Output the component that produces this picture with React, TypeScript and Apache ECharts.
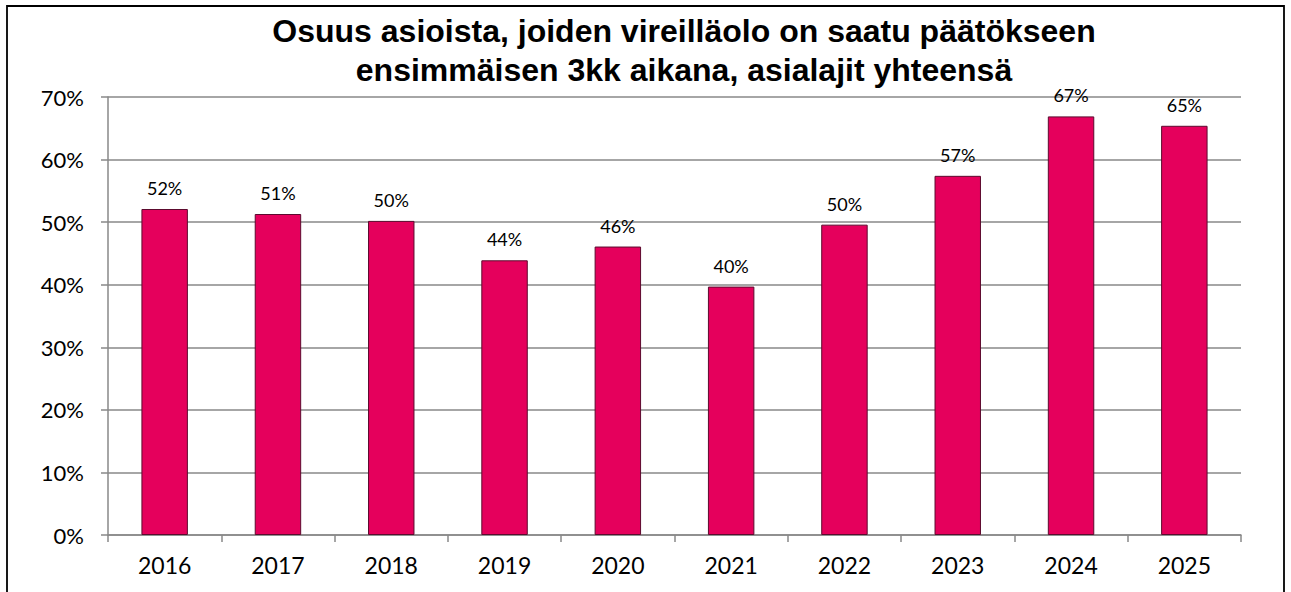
import React, { useEffect, useRef } from "react";
import * as echarts from "echarts";

const categories = ["2016", "2017", "2018", "2019", "2020", "2021", "2022", "2023", "2024", "2025"];
const values = [52.1, 51.3, 50.2, 43.9, 46.1, 39.7, 49.6, 57.4, 66.9, 65.4];
const titleLines = [
  "Osuus asioista, joiden vireilläolo on saatu päätökseen",
  "ensimmäisen 3kk aikana, asialajit yhteensä",
];

export default function App() {
  const ref = useRef<HTMLDivElement>(null);
  useEffect(() => {
    const chart = echarts.init(ref.current!, null, { renderer: "svg" });
    chart.setOption({
      animation: false,
      backgroundColor: "#ffffff",
      title: {
        text: titleLines.join("\n"),
        left: 679,
        textAlign: "center",
        top: 6,
        textStyle: {
          fontFamily: "Liberation Sans, Arial, sans-serif",
          fontWeight: "bold",
          fontSize: 32,
          lineHeight: 39,
          color: "#000",
        },
      },
      graphic: [
        {
          type: "rect",
          shape: { x: 7, y: 6, width: 1277, height: 600 },
          style: { fill: "none", stroke: "#000", lineWidth: 1.8 },
          silent: true,
        },
      ],
      grid: { left: 108, right: 50, top: 97, bottom: 57 },
      xAxis: {
        type: "category",
        data: categories,
        axisLine: { lineStyle: { color: "#898989", width: 1.5 } },
        axisTick: { show: true, alignWithLabel: false, length: 7, lineStyle: { color: "#898989", width: 1.5 } },
        axisLabel: { fontFamily: "Lato, Calibri, sans-serif", fontSize: 23, color: "#000", margin: 18 },
      },
      yAxis: {
        type: "value",
        min: 0,
        max: 70,
        interval: 10,
        axisLine: { show: true, lineStyle: { color: "#898989", width: 1.5 } },
        axisTick: { show: true, length: 7, lineStyle: { color: "#898989", width: 1.5 } },
        splitLine: { lineStyle: { color: "#898989", width: 1.5 } },
        axisLabel: {
          formatter: "{value}%",
          fontFamily: "Lato, Calibri, sans-serif",
          fontSize: 22,
          color: "#000",
          margin: 24,
        },
      },
      series: [
        {
          type: "bar",
          data: values,
          barWidth: "41%",
          itemStyle: { color: "#E5005C", borderColor: "#5C0A2E", borderWidth: 1 },
          label: {
            show: true,
            position: "top",
            distance: 12,
            formatter: (p: any) => Math.round(p.value) + "%",
            fontFamily: "Lato, Calibri, sans-serif",
            fontSize: 18,
            color: "#000",
          },
        },
      ],
    });
    return () => chart.dispose();
  }, []);
  return (
    <div
      ref={ref}
      style={{ position: "absolute", left: 0, top: 0, width: 1291, height: 592 }}
    />
  );
}
